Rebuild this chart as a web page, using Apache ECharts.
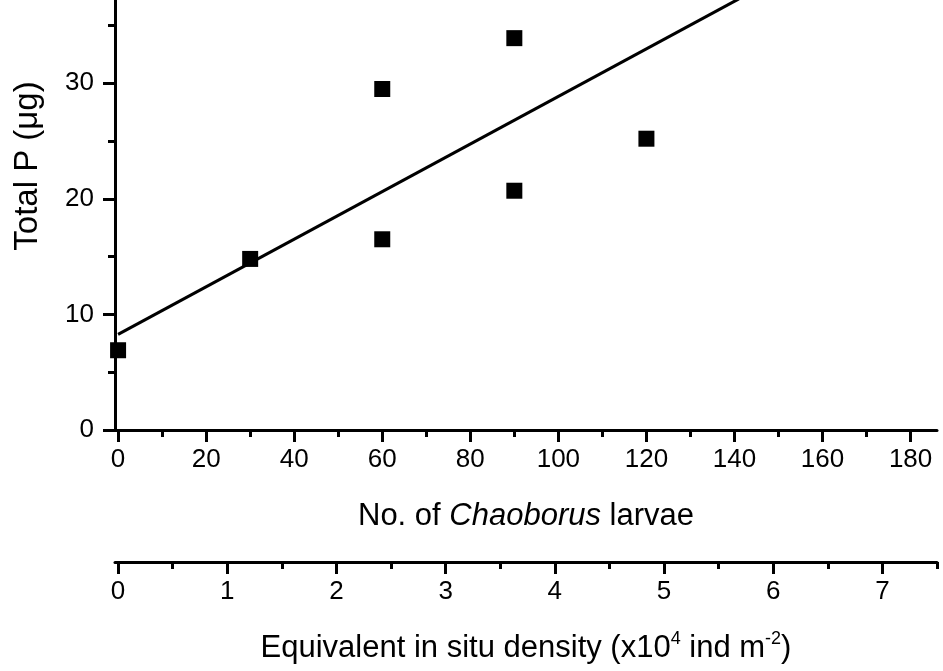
<!DOCTYPE html>
<html>
<head>
<meta charset="utf-8">
<style>
  html, body { margin: 0; padding: 0; background: #fff; }
  #chart { width: 943px; height: 671px; }
</style>
<script src="https://cdn.jsdelivr.net/npm/echarts@6/dist/echarts.min.js"></script>
</head>
<body>
<div id="chart"></div>
<script>
// measured points: larvae count vs total P
const larvae = [0, 30, 60, 60, 90, 90, 120]
const totalP = [6.9, 14.8, 29.5, 16.5, 33.9, 20.7, 25.2]

// fitted line as drawn (two end points)
const fitX = [0, 141]
const fitY = [8.27, 37.3]

const xMajor = [0, 20, 40, 60, 80, 100, 120, 140, 160, 180]
const xMinor = [10, 30, 50, 70, 90, 110, 130, 150, 170]
const densMajor = [0, 1, 2, 3, 4, 5, 6, 7]
const densMinor = [0.5, 1.5, 2.5, 3.5, 4.5, 5.5, 6.5, 7.5]
const yMajor = [0, 10, 20, 30]
const yMinor = [5, 15, 25, 35]

const font = '"Liberation Sans", Arial, sans-serif'
const black = '#000'

const chart = echarts.init(document.getElementById('chart'))

const baseX = {
  type: 'value',
  position: 'bottom',
  min: -0.7,
  max: 186,
  splitLine: { show: false },
  axisLine: { onZero: false, lineStyle: { color: black, width: 3 } }
}

const baseDens = Object.assign({}, baseX, {
  min: -0.028,
  max: 7.5,
  offset: 132
})

const baseY = {
  type: 'value',
  position: 'left',
  min: 0,
  max: 37.2,
  splitLine: { show: false },
  axisLine: { onZero: false, lineStyle: { color: black, width: 3 } }
}

const labelStyle = { color: black, fontSize: 26, fontFamily: font }
const titleStyle = {
  color: black,
  fontSize: 31,
  fontFamily: font,
  lineHeight: 36,
  rich: {
    i: { fontStyle: 'italic', fontSize: 31, fontFamily: font, color: black, lineHeight: 36 },
    sup: { fontSize: 18, fontFamily: font, color: black, lineHeight: 18, verticalAlign: 'top' }
  }
}

const options = {
  animation: false,
  backgroundColor: '#fff',
  grid: { left: 115, right: 6, top: 0, bottom: 241, containLabel: false },
  xAxis: [
    Object.assign({}, baseX, {
      name: 'No. of {i|Chaoborus} larvae',
      nameLocation: 'middle',
      nameGap: 68,
      nameTextStyle: titleStyle,
      axisTick: { customValues: xMajor, length: 12, lineStyle: { color: black, width: 3 } },
      axisLabel: Object.assign({ customValues: xMajor, margin: 17 }, labelStyle)
    }),
    Object.assign({}, baseX, {
      axisLine: { show: false, onZero: false },
      axisTick: { customValues: xMinor, length: 7, lineStyle: { color: black, width: 3 } },
      axisLabel: { show: false }
    }),
    Object.assign({}, baseDens, {
      name: 'Equivalent in situ density (x10{sup|4} ind m{sup|-2})',
      nameLocation: 'middle',
      nameGap: 68,
      nameTextStyle: titleStyle,
      axisTick: { customValues: densMajor, length: 12, lineStyle: { color: black, width: 3 } },
      axisLabel: Object.assign({ customValues: densMajor, margin: 17 }, labelStyle)
    }),
    Object.assign({}, baseDens, {
      axisLine: { show: false, onZero: false },
      axisTick: { customValues: densMinor, length: 7, lineStyle: { color: black, width: 3 } },
      axisLabel: { show: false }
    })
  ],
  yAxis: [
    Object.assign({}, baseY, {
      axisTick: { customValues: yMajor, length: 12, lineStyle: { color: black, width: 3 } },
      axisLabel: Object.assign({ customValues: yMajor, margin: 21 }, labelStyle)
    }),
    Object.assign({}, baseY, {
      axisLine: { show: false, onZero: false },
      axisTick: { customValues: yMinor, length: 7, lineStyle: { color: black, width: 3 } },
      axisLabel: { show: false }
    })
  ],
  graphic: [
    {
      type: 'text',
      x: 28,
      y: 166,
      rotation: Math.PI / 2,
      style: {
        text: 'Total P (μg)',
        fill: black,
        font: '33px ' + font,
        textAlign: 'center',
        textVerticalAlign: 'middle'
      }
    }
  ],
  series: [
    {
      type: 'line',
      xAxisIndex: 0,
      yAxisIndex: 0,
      data: fitX.map((x, i) => [x, fitY[i]]),
      symbol: 'none',
      lineStyle: { color: black, width: 3 },
      clip: true
    },
    {
      type: 'scatter',
      xAxisIndex: 0,
      yAxisIndex: 0,
      data: larvae.map((x, i) => [x, totalP[i]]),
      symbol: 'rect',
      symbolSize: 16,
      itemStyle: { color: black, opacity: 1 },
      clip: false
    }
  ]
}

chart.setOption(options)
</script>
</body>
</html>
